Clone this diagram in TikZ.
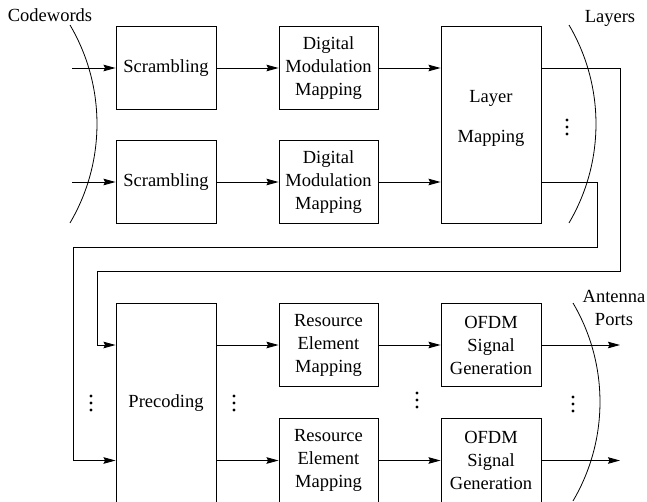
\documentclass[tikz,border=0pt]{standalone}
\usepackage{fontspec}
\setmainfont{Liberation Serif}
\usetikzlibrary{arrows.meta,calc}
\begin{document}
\begin{tikzpicture}[x=1pt,y=-1pt,
  txt/.style={font=\fontsize{18.5}{23}\selectfont, inner sep=0pt, align=center},
  box/.style={draw, line width=0.9pt, font=\fontsize{18.5}{23}\selectfont, align=center, inner sep=0pt, minimum width=100pt},
  conn/.style={line width=0.9pt},
  arr/.style={conn, -{Stealth[length=12pt,width=6.5pt,inset=1.5pt]}},
  arcline/.style={line width=0.8pt},
  threedots/.pic={\fill (0,-7) circle (1.6pt) (0,0) circle (1.6pt) (0,7) circle (1.6pt);}
]
\useasboundingbox (0,0) rectangle (647,501);
\clip (0,0) rectangle (647,501);

% top half
\node[box, minimum height=83pt] (s1) at (166,68) {Scrambling};
\node[box, minimum height=83pt] (s2) at (166,182) {Scrambling};
\node[box, minimum height=83pt, minimum width=99pt] (d1) at (328.5,68) {Digital\\Modulation\\Mapping};
\node[box, minimum height=83pt, minimum width=99pt] (d2) at (328.5,182) {Digital\\Modulation\\Mapping};
\node[box, minimum height=197pt] (L) at (491,124.5) {};
\node[txt] (Ltxt) at (491,118.5) {Layer\\[17pt]Mapping};

% bottom half
\node[box, minimum height=200pt] (P) at (166,403) {Precoding};
\node[box, minimum height=83pt, minimum width=99pt] (r1) at (328.5,345) {Resource\\Element\\Mapping};
\node[box, minimum height=84pt, minimum width=99pt] (r2) at (328.5,460.5) {Resource\\Element\\Mapping};
\node[box, minimum height=83pt] (o1) at (491,345) {OFDM\\Signal\\Generation};
\node[box, minimum height=84pt] (o2) at (491,460.5) {OFDM\\Signal\\Generation};

% labels
\node[txt, anchor=base] (cw) at (50,21) {Codewords};
\node[txt, anchor=base] (ly) at (610,22) {Layers};
\node[txt] (ap) at (614,308) {Antenna\\Ports};

% free ends
\coordinate (in1) at (72,68);
\coordinate (in2) at (72,182);
\coordinate (out1) at (620,345);
\coordinate (out2) at (620,460.5);

% connectors
\draw[arr] (in1) -- (s1);
\draw[arr] (in2) -- (s2);
\draw[arr] (s1) -- (d1);
\draw[arr] (s2) -- (d2);
\draw[arr] (d1) -- (d1 -| L.west);
\draw[arr] (d2) -- (d2 -| L.west);
\draw[arr] (L.east |- d1) -- (620,68) -- (620,271) -- (97,271) |- (P.west |- r1);
\draw[arr] (L.east |- d2) -- (597,182) -- (597,247) -- (73,247) |- (P.west |- r2);
\draw[arr] (P.east |- r1) -- (r1);
\draw[arr] (P.east |- r2) -- (r2);
\draw[arr] (r1) -- (o1);
\draw[arr] (r2) -- (o2);
\draw[arr] (o1) -- (out1);
\draw[arr] (o2) -- (out2);

% arcs
\draw[arcline] (70,25) arc[start angle=-30.5, end angle=30.5, radius=195];
\draw[arcline] (569,25) arc[start angle=-30.5, end angle=30.5, radius=195];
\draw[arcline] (573,303) arc[start angle=-30.5, end angle=30.5, radius=195];

% dots
\pic at (567,127) {threedots};
\pic at (91,403) {threedots};
\pic at (234,403) {threedots};
\pic at (417,400) {threedots};
\pic at (573,404) {threedots};
\end{tikzpicture}
\end{document}
